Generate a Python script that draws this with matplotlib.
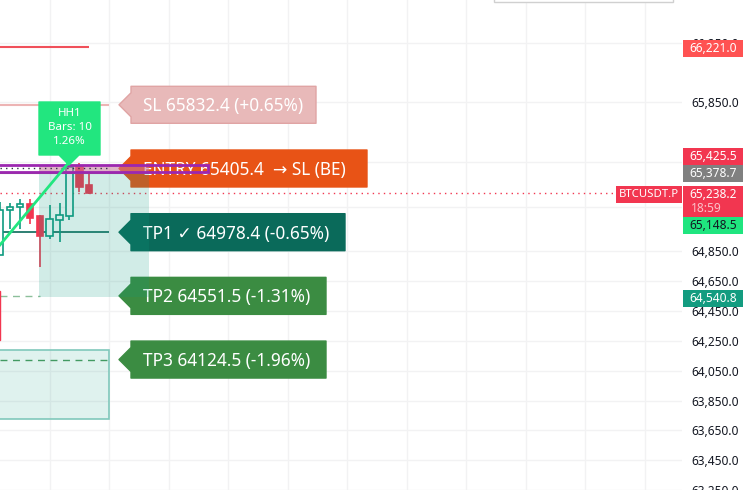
import matplotlib
matplotlib.use('Agg')
import matplotlib.pyplot as plt
from matplotlib.patches import Polygon, Rectangle
from matplotlib.transforms import Affine2D

# candles
bar_idx = [0, 1, 2, 3, 4, 5, 6, 7, 8, 9]
opens = [64826, 65125, 65145, 65165, 65085, 64952, 65059, 65085, 65418, 65292]
closes = [65125, 65145, 65165, 65072, 64952, 65066, 65092, 65418, 65278, 65238.2]
highs = [65179, 65172, 65198, 65198, 65092, 65159, 65172, 65458, 65444, 65371]
lows = [64826, 64999, 64999, 65032, 64746, 64933, 64913, 65059, 65245, 65232]

# bar partly off the left edge
old_idx = -0.3
old_open = 64587
old_close = 64254

# price levels
level_old_sl = 66221.0
level_sl = 65832.4
level_entry = 65405.4
level_tp1 = 64978.4
level_tp2 = 64551.5
level_tp3 = 64124.5
level_gray = 65378.7
level_last = 65238.2
zone_top = 65425.5
zone_bottom = 64540.8
old_zone_top = 64190
old_zone_bottom = 63725

trend_x = [0, 7]
trend_y = [64893, 65451]

ytick_vals = [66250, 65850, 65450, 65150, 64850, 64650, 64450, 64250, 64050, 63850, 63650, 63450, 63250]
ytick_labels = ['66,250.0', '65,850.0', '', '', '64,850.0', '64,650.0', '64,450.0',
                '64,250.0', '64,050.0', '63,850.0', '63,650.0', '63,450.0', '63,250.0']
xgrid = [5, 11, 17, 23, 29, 35, 41, 47, 53, 59, 65]

tag_levels = [level_sl, level_entry, level_tp1, level_tp2, level_tp3]
tag_texts = ['SL 65832.4 (+0.65%)', 'ENTRY 65405.4  \u2192 SL (BE)', 'TP1 \u2713 64978.4 (-0.65%)',
             'TP2 64551.5 (-1.31%)', 'TP3 64124.5 (-1.96%)']
tag_right = [316, 367, 345, 326, 326]
tag_colors = ['#E8B9B9', '#E85316', '#0A6A5A', '#3B8C42', '#3B8C42']
tag_edges = ['#E0A4A4', '#E85316', '#0A6A5A', '#3B8C42', '#3B8C42']

# axis labels: text, top px, bottom px, fill, text colour
price_boxes = [
    ('66,221.0', 40, 57, '#FF5252', 'white'),
    ('65,425.5', 148, 165, '#F23650', 'white'),
    ('65,378.7', 165, 182, '#808080', 'white'),
    ('65,148.5', 217, 234, '#1FE57F', '#131722'),
    ('64,540.8', 290, 307, '#139C80', 'white'),
]

RED = '#F23650'
TEAL = '#0F9B80'
FONT = ['Noto Sans', 'DejaVu Sans']
W, H = 748, 490

plt.rcParams['font.family'] = FONT

fig = plt.figure(figsize=(W / 100, H / 100), dpi=100)
ax = fig.add_axes([0, 0, 682 / W, 1])
ax.set_xlim(0, 682 / 9.92)
ax.set_ylim(63277, 66535)
for s in ax.spines.values():
    s.set_visible(False)

ax.yaxis.tick_right()
ax.set_yticks(ytick_vals)
ax.set_yticklabels(ytick_labels, fontsize=8.6, color='#131722')
ax.tick_params(axis='y', length=0, pad=6.5)
ax.set_xticks(xgrid)
ax.tick_params(axis='x', length=0, labelbottom=False)
ax.grid(True, color='#F2F2F3', linewidth=1)
ax.set_axisbelow(True)

# image pixels, y going down
px = Affine2D().scale(1, -1).translate(0, H)


def price_to_py(price):
    return H - ax.transData.transform((0, price))[1]


# old lines and zones on the left
ax.hlines(level_old_sl, 0, 9, color='#F0505A', linewidth=1.5, zorder=2)
ax.hlines(level_sl, 0, 11, color='#EDB4B4', linewidth=1.5, zorder=2)
ax.hlines(level_tp1, 0, 11, color='#0A6A5A', linewidth=1.2, zorder=2)
ax.hlines(level_tp2, 0, 4, color='#8CBF9A', linewidth=1, linestyles=(0, (5, 4)), zorder=2)
ax.hlines(level_tp3, 0, 11, color='#4A9A5E', linewidth=1, linestyles=(0, (5, 4)), zorder=2)
ax.add_patch(Rectangle((-1, old_zone_bottom), 12, old_zone_top - old_zone_bottom, facecolor=TEAL,
                       alpha=0.13, edgecolor='none', zorder=2))
ax.add_patch(Rectangle((-1, old_zone_bottom), 12, old_zone_top - old_zone_bottom, facecolor='none',
                       edgecolor='#80C8BB', linewidth=1.2, zorder=2))

ax.hlines(level_last, 0, 62.2, color=RED, linewidth=1, linestyles=(0, (1, 3)), zorder=2)

# candles
ax.add_patch(Rectangle((old_idx - 0.35, old_close), 0.7, old_open - old_close, color=RED, zorder=3))
for i in range(len(bar_idx)):
    up = closes[i] >= opens[i]
    col = TEAL if up else RED
    x = bar_idx[i]
    ax.vlines(x, lows[i], highs[i], color=col, linewidth=1.2, zorder=3)
    low = min(opens[i], closes[i])
    high = max(opens[i], closes[i])
    ax.add_patch(Rectangle((x - 0.32, low), 0.64, high - low, facecolor='white' if up else RED,
                           edgecolor=col, linewidth=1.2, zorder=4))

# tags
for level, text, right, col, edge in zip(tag_levels, tag_texts, tag_right, tag_colors, tag_edges):
    cy = price_to_py(level)
    pts = [(119, cy), (131, cy - 12), (131, cy - 18.5), (right, cy - 18.5), (right, cy + 18.5),
           (131, cy + 18.5), (131, cy + 12)]
    ax.add_patch(Polygon(pts, closed=True, facecolor=col, edgecolor=edge, linewidth=1, joinstyle='round',
                         transform=px, zorder=5, clip_on=False))
    ax.text(143, cy + 1.5, text, color='white', fontsize=12.4, fontweight='medium', va='center', ha='left',
            transform=px, zorder=6)

# current trade zone sits over the candles and the tags
ax.add_patch(Rectangle((3.93, zone_bottom), 11.07, zone_top - zone_bottom, facecolor=TEAL, alpha=0.19,
                       edgecolor='none', zorder=7))
ax.add_patch(Rectangle((3.93, level_gray), 11.07, zone_top - level_gray, facecolor='#F06EA0', alpha=0.45,
                       edgecolor='none', zorder=7))
ax.hlines(level_gray - 5, 0, 15, color='#808080', linewidth=1.5, zorder=8)
ax.hlines(level_entry, 0, 11, color='#333344', linewidth=1, linestyles=(0, (1, 3)), zorder=8)
ax.add_patch(Rectangle((-1, level_gray), 22, zone_top - level_gray, facecolor='none', edgecolor='#9C27B0',
                       linewidth=2, zorder=9))

ax.plot(trend_x, trend_y, color='#22E67F', linewidth=2, zorder=9)

# HH1 label
ax.add_patch(Polygon([(39, 102), (100, 102), (100, 155), (79, 155), (69, 165), (59, 155), (39, 155)],
                     closed=True, facecolor='#22E67F', edgecolor='#22E67F', linewidth=1, joinstyle='round',
                     transform=px, zorder=10))
ax.text(69.5, 113.5, 'HH1', color='white', fontsize=8.3, ha='center', va='center', transform=px, zorder=11)
ax.text(69.5, 127, 'Bars: 10', color='white', fontsize=8.3, ha='center', va='center', transform=px, zorder=11)
ax.text(69.5, 141, '1.26%', color='white', fontsize=8.3, ha='center', va='center', transform=px, zorder=11)

# price scale boxes
for text, top, bottom, fill, txt in price_boxes:
    ax.add_patch(Rectangle((683, top), 60, bottom - top, facecolor=fill, edgecolor='none', transform=px,
                           zorder=12, clip_on=False))
    ax.text(737, (top + bottom) / 2, text, color=txt, fontsize=8.6, ha='right', va='center', transform=px,
            zorder=13, clip_on=False)

ax.add_patch(Rectangle((683, 186), 60, 31, facecolor=RED, edgecolor='none', transform=px, zorder=12, clip_on=False))
ax.text(737, 194, '65,238.2', color='white', fontsize=8.6, ha='right', va='center', transform=px, zorder=13,
        clip_on=False)
ax.text(691, 208, '18:59', color='#FBC0C8', fontsize=8.6, ha='left', va='center', transform=px, zorder=13,
        clip_on=False)
ax.add_patch(Rectangle((616, 186), 66, 17, facecolor=RED, edgecolor='none', transform=px, zorder=12))
ax.text(649, 194.5, 'BTCUSDT.P', color='white', fontsize=8.2, ha='center', va='center', transform=px, zorder=13)

# edge of a dialog hanging in from the top
ax.add_patch(Rectangle((494, -4), 179, 6, facecolor='white', edgecolor='#D0D0D0', linewidth=1, transform=px,
                       zorder=14))

fig.savefig('out.png', dpi=100)
